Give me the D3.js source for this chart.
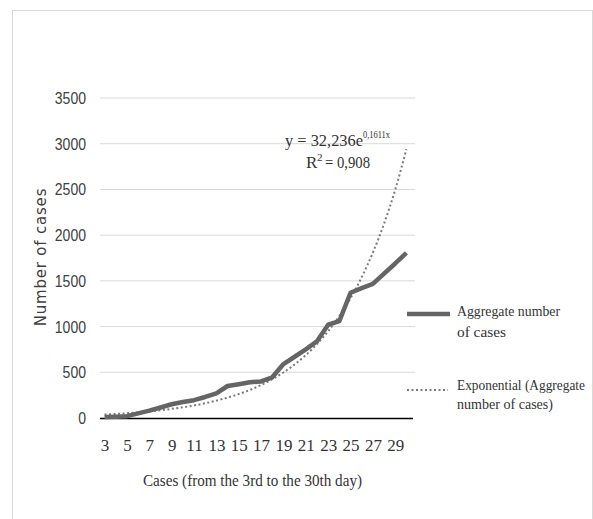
<!DOCTYPE html>
<html>
<head>
<meta charset="utf-8">
<script src="https://cdn.jsdelivr.net/npm/d3@7"></script>
<style>
  body { margin: 0; background: #fff; }
</style>
</head>
<body>
<svg width="593" height="519"></svg>
<script>
// Data
var days = d3.range(3, 31);
var aggregateCases = [10, 15, 20, 50, 80, 115, 150, 175, 195, 230, 270, 350, 370, 390,
  400, 445, 590, 670, 750, 840, 1020, 1060, 1370, 1420, 1466, 1580, 1690, 1805];
var exponentialFit = [38, 44, 52, 61, 72, 85, 100, 117, 137, 161, 190, 223, 262, 307,
  361, 424, 498, 586, 688, 808, 950, 1116, 1311, 1540, 1809, 2125, 2497, 2940];
var yTicks = [0, 500, 1000, 1500, 2000, 2500, 3000, 3500];
var xTicks = [3, 5, 7, 9, 11, 13, 15, 17, 19, 21, 23, 25, 27, 29];

var svg = d3.select("svg");

// outer frame
svg.append("rect")
  .attr("x", 12.5).attr("y", 10.5)
  .attr("width", 580).attr("height", 530)
  .attr("fill", "none")
  .attr("stroke", "#d9d9d9");

var x = d3.scalePoint()
  .domain(days)
  .range([99, 412])
  .padding(0.5);

var y = d3.scaleLinear()
  .domain([0, 3500])
  .range([418, 98]);

// gridlines
svg.append("g")
  .selectAll("line")
  .data(yTicks.filter(function(d) { return d > 0; }))
  .enter()
  .append("line")
    .attr("x1", 100).attr("x2", 415)
    .attr("y1", function(d) { return y(d); })
    .attr("y2", function(d) { return y(d); })
    .attr("stroke", "#d9d9d9")
    .attr("stroke-width", 1);

// y axis labels
var yAxis = svg.append("g")
  .attr("transform", "translate(99,0)")
  .call(d3.axisLeft(y).tickValues(yTicks).tickFormat(d3.format("d")).tickSize(0).tickPadding(13));
yAxis.select(".domain").remove();
yAxis.selectAll("text")
  .attr("font-family", "'Liberation Sans', sans-serif")
  .attr("font-size", 17)
  .attr("fill", "#404040")
  .attr("textLength", function(d) { return String(d).length * 7.8; })
  .attr("lengthAdjust", "spacingAndGlyphs");

// x axis
var xAxis = svg.append("g")
  .attr("transform", "translate(0,418)")
  .call(d3.axisBottom(x).tickValues(xTicks).tickSize(0).tickSizeOuter(0).tickPadding(21));
xAxis.select(".domain")
  .attr("stroke", "#000")
  .attr("stroke-width", 1.5)
  .attr("d", "M100,0.5H413");
xAxis.selectAll("text")
  .attr("font-family", "'Liberation Serif', serif")
  .attr("font-size", 17)
  .attr("fill", "#333");

// trendline
svg.append("path")
  .datum(exponentialFit)
  .attr("fill", "none")
  .attr("stroke", "#7a7a7a")
  .attr("stroke-width", 2)
  .attr("stroke-dasharray", "2,2.5")
  .attr("d", d3.line()
    .x(function(d, i) { return x(days[i]); })
    .y(function(d) { return y(d); })
    .curve(d3.curveMonotoneX));

// aggregate line
svg.append("path")
  .datum(aggregateCases)
  .attr("fill", "none")
  .attr("stroke", "#656565")
  .attr("stroke-width", 4.5)
  .attr("stroke-linejoin", "round")
  .attr("d", d3.line()
    .x(function(d, i) { return x(days[i]); })
    .y(function(d) { return y(d); }));

// axis titles
svg.append("text")
  .attr("transform", "translate(46,257) rotate(-90)")
  .attr("text-anchor", "middle")
  .attr("font-family", "'DejaVu Sans', sans-serif")
  .attr("font-size", 15)
  .attr("letter-spacing", 0.8)
  .attr("fill", "#404040")
  .text("Number of cases");

svg.append("text")
  .attr("x", 143).attr("y", 486)
  .attr("font-family", "'Liberation Serif', serif")
  .attr("font-size", 17)
  .attr("textLength", 219)
  .attr("lengthAdjust", "spacingAndGlyphs")
  .attr("fill", "#333")
  .text("Cases (from the 3rd to the 30th day)");

// trendline equation, pieces placed one after another
var note = svg.append("g")
  .attr("font-family", "'Liberation Serif', serif")
  .attr("fill", "#333");
note.append("text").attr("x", 285).attr("y", 146)
  .attr("font-size", 17)
  .attr("textLength", 78).attr("lengthAdjust", "spacingAndGlyphs")
  .text("y = 32,236e");
note.append("text").attr("x", 363).attr("y", 138)
  .attr("font-size", 11)
  .attr("textLength", 27).attr("lengthAdjust", "spacingAndGlyphs")
  .text("0,1611x");
note.append("text").attr("x", 306).attr("y", 168)
  .attr("font-size", 17)
  .text("R");
note.append("text").attr("x", 317).attr("y", 161)
  .attr("font-size", 11)
  .text("2");
note.append("text").attr("x", 325).attr("y", 168)
  .attr("font-size", 17)
  .attr("textLength", 45).attr("lengthAdjust", "spacingAndGlyphs")
  .text("= 0,908");

// legend
var legend = svg.append("g")
  .attr("font-family", "'Liberation Serif', serif")
  .attr("font-size", 14)
  .attr("fill", "#333");

legend.append("line")
  .attr("x1", 407).attr("x2", 450)
  .attr("y1", 314).attr("y2", 314)
  .attr("stroke", "#656565")
  .attr("stroke-width", 4.5);
legend.append("text").attr("x", 457).attr("y", 316)
  .attr("textLength", 103).attr("lengthAdjust", "spacingAndGlyphs")
  .text("Aggregate number");
legend.append("text").attr("x", 457).attr("y", 337)
  .attr("textLength", 49).attr("lengthAdjust", "spacingAndGlyphs")
  .text("of cases");

legend.append("line")
  .attr("x1", 407).attr("x2", 448)
  .attr("y1", 390).attr("y2", 390)
  .attr("stroke", "#7a7a7a")
  .attr("stroke-width", 2)
  .attr("stroke-dasharray", "2,2.5");
legend.append("text").attr("x", 457).attr("y", 390)
  .attr("textLength", 128).attr("lengthAdjust", "spacingAndGlyphs")
  .text("Exponential (Aggregate");
legend.append("text").attr("x", 457).attr("y", 409)
  .attr("textLength", 96).attr("lengthAdjust", "spacingAndGlyphs")
  .text("number of cases)");
</script>
</body>
</html>
